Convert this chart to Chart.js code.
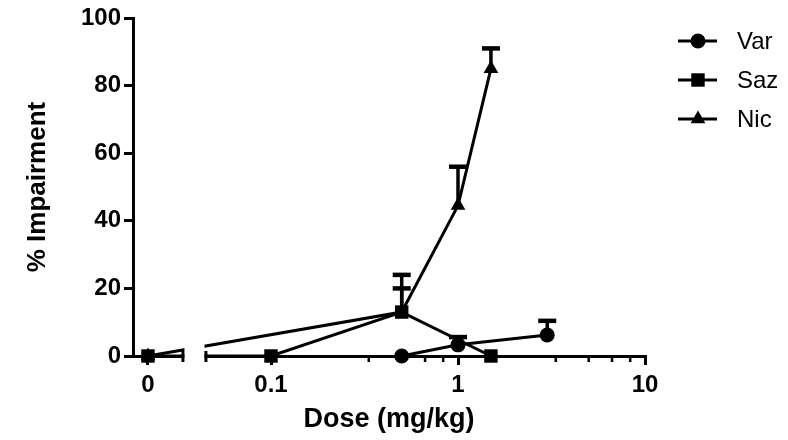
<!DOCTYPE html>
<html><head><meta charset="utf-8">
<script src="https://cdn.jsdelivr.net/npm/chart.js@4/dist/chart.umd.min.js"></script>
<style>html,body{margin:0;padding:0;background:#fff}</style>
</head><body>
<div style="width:788px;height:440px;position:relative"><canvas id="c"></canvas></div>
<script>
// ---- data ----
const seriesNames = ['Var', 'Saz', 'Nic'];
const varDoses = [0.5, 1, 3];
const varValues = [0, 3.3, 6.2];
const varErrTop = [0, 5.6, 10.4];
const sazDoses = [0, 0.1, 0.5, 1.5];
const sazValues = [0, 0, 13, 0];
const sazErrTop = [0, 0, 20, 0];
const nicDoses = [0, 0.5, 1, 1.5];
const nicValues = [0, 13, 44.5, 85];
const nicErrTop = [0, 24, 56, 91];
const xMajorTicks = [0, 0.1, 1, 10];
const xMajorLabels = ['0', '0.1', '1', '10'];
const xMinorTicks = [0.3333, 0.5, 0.6667, 0.8333, 3.333, 5, 6.667, 8.333];
const yTickValues = [0, 20, 40, 60, 80, 100];

// ---- axis layout (segmented log axis with a break) ----
const ZERO_POS = -1.658;      // where dose 0 sits
const SEG1_END = -1.471;      // end of the "0" segment
const SEG2_START = -1.348;    // start of the log segment
const X_MIN = -1.738, X_MAX = 1;
const pos = d => d === 0 ? ZERO_POS : Math.log10(d);

const FONT = "'Liberation Sans', Arial, Helvetica, sans-serif";

function makeSet(label, doses, values, errs, style, radius) {
  return {
    label,
    data: doses.map((d, i) => ({ x: pos(d), y: values[i] })),
    errTop: errs,
    borderColor: '#000', backgroundColor: '#000',
    borderWidth: 3, pointStyle: style, pointRadius: radius, pointHoverRadius: radius,
    pointBorderWidth: 0, pointBackgroundColor: '#000', pointBorderColor: '#000',
    tension: 0, clip: false, fill: false
  };
}

const datasets = [
  makeSet(seriesNames[0], varDoses, varValues, varErrTop, 'circle', 7.5),
  makeSet(seriesNames[1], sazDoses, sazValues, sazErrTop, 'rect', 9.5),
  makeSet(seriesNames[2], nicDoses, nicValues, nicErrTop, 'triangle', 8.5)
];

const errorBars = {
  id: 'errorBars',
  afterDatasetsDraw(chart) {
    const ctx = chart.ctx, ys = chart.scales.y;
    chart.data.datasets.forEach((ds, di) => {
      const meta = chart.getDatasetMeta(di);
      meta.data.forEach((pt, i) => {
        const top = ds.errTop[i];
        if (top == null || top <= ds.data[i].y) return;
        const yTop = ys.getPixelForValue(top);
        ctx.save();
        ctx.strokeStyle = '#000';
        ctx.lineWidth = 3.5;
        ctx.beginPath(); ctx.moveTo(pt.x, pt.y); ctx.lineTo(pt.x, yTop); ctx.stroke();
        ctx.lineWidth = 4.5;
        ctx.beginPath(); ctx.moveTo(pt.x - 9, yTop); ctx.lineTo(pt.x + 9, yTop); ctx.stroke();
        ctx.restore();
      });
    });
  }
};

const axisBreak = {
  id: 'axisBreak',
  afterDatasetsDraw(chart) {
    const ctx = chart.ctx, xs = chart.scales.x, a = chart.chartArea;
    const x1 = xs.getPixelForValue(SEG1_END), x2 = xs.getPixelForValue(SEG2_START);
    ctx.save();
    ctx.fillStyle = '#fff';
    ctx.fillRect(x1 + 1.5, a.top, x2 - x1 - 3, a.bottom - a.top + 3);
    ctx.strokeStyle = '#000';
    ctx.lineWidth = 3;
    [x1, x2].forEach(x => { ctx.beginPath(); ctx.moveTo(x, a.bottom - 5); ctx.lineTo(x, a.bottom + 6); ctx.stroke(); });
    ctx.lineWidth = 2.5;
    xMinorTicks.forEach(d => {
      const x = xs.getPixelForValue(pos(d));
      ctx.beginPath(); ctx.moveTo(x, a.bottom); ctx.lineTo(x, a.bottom + 6); ctx.stroke();
    });
    ctx.restore();
  }
};

const legendMarks = {
  id: 'legendMarks',
  afterDraw(chart) {
    const ctx = chart.ctx;
    chart.data.datasets.forEach((ds, i) => {
      const y = 41 + i * 39;
      ctx.save();
      ctx.strokeStyle = '#000'; ctx.lineWidth = 3;
      ctx.beginPath(); ctx.moveTo(678, y); ctx.lineTo(717, y); ctx.stroke();
      ctx.fillStyle = '#000';
      Chart.helpers.drawPoint(ctx, { pointStyle: ds.pointStyle, radius: ds.pointRadius, borderWidth: 0, rotation: 0 }, 698, y);
      ctx.font = '24px ' + FONT;
      ctx.textBaseline = 'middle'; ctx.textAlign = 'left';
      ctx.fillText(ds.label, 737, y + 1);
      ctx.restore();
    });
  }
};

new Chart(document.getElementById('c'), {
  type: 'line',
  data: { datasets },
  options: {
    responsive: true, maintainAspectRatio: false, animation: false,
    layout: { padding: { top: 18, right: 143, left: 0, bottom: 0 } },
    plugins: { legend: { display: false }, tooltip: { enabled: false } },
    scales: {
      x: {
        type: 'linear', min: X_MIN, max: X_MAX,
        afterBuildTicks: s => { s.ticks = xMajorTicks.map(d => ({ value: pos(d) })); },
        afterFit: s => { s.height = 84; },
        ticks: { autoSkip: false, maxRotation: 0, color: '#000', padding: 6,
                 font: { family: FONT, size: 24, weight: 'bold' },
                 callback: (v, i) => xMajorLabels[i] },
        grid: { display: true, drawOnChartArea: false, drawTicks: true, tickLength: 9,
                tickWidth: 3, tickColor: '#000', color: '#000', lineWidth: 3 },
        border: { display: true, color: '#000', width: 3 },
        title: { display: true, text: 'Dose (mg/kg)', color: '#000',
                 font: { family: FONT, size: 27, weight: 'bold' }, padding: { top: 0, bottom: 4 } }
      },
      y: {
        min: 0, max: 100,
        afterBuildTicks: s => { s.ticks = yTickValues.map(v => ({ value: v })); },
        afterFit: s => { s.width = 133; },
        ticks: { color: '#000', padding: 3, font: { family: FONT, size: 24, weight: 'bold' } },
        grid: { display: true, drawOnChartArea: false, drawTicks: true, tickLength: 9,
                tickWidth: 3, tickColor: '#000', color: '#000', lineWidth: 3 },
        border: { display: true, color: '#000', width: 3 },
        title: { display: true, text: '% Impairment', color: '#000',
                 font: { family: FONT, size: 26, weight: 'bold' }, padding: { top: 22, bottom: 0 } }
      }
    }
  },
  plugins: [errorBars, axisBreak, legendMarks]
});
</script>
</body></html>
